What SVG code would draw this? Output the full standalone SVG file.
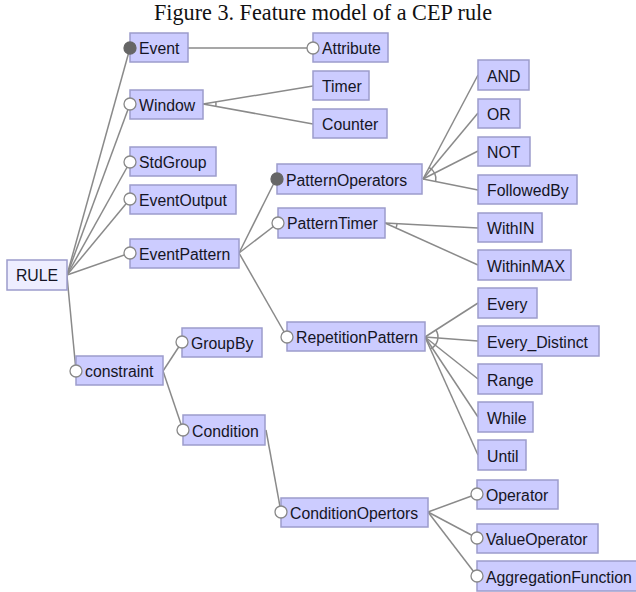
<svg xmlns="http://www.w3.org/2000/svg" width="636" height="592" viewBox="0 0 636 592">
<style>
.n rect{fill:#ccccff;stroke:#9c9ccc;stroke-width:1.5}
.n text{font-family:"Liberation Sans",Arial,sans-serif;font-size:15.8px;fill:#151525}
.root rect{fill:#eeeeff}
.c{fill:#fff;stroke:#888;stroke-width:1.3}
.m{fill:#666;stroke:#666;stroke-width:1.3}
#edges line,#edges path{stroke:#8a8a8a;stroke-width:1.5;fill:none}
</style>
<rect width="636" height="592" fill="#fff"/>
<text x="323" y="20" text-anchor="middle" font-family="Liberation Serif,'Times New Roman',serif" font-size="22.2" fill="#111">Figure 3. Feature model of a CEP rule</text>
<g id="edges">
<line x1="67" y1="275" x2="130" y2="48"/>
<line x1="67" y1="275" x2="130" y2="104"/>
<line x1="67" y1="275" x2="130" y2="162"/>
<line x1="67" y1="275" x2="130" y2="199"/>
<line x1="67" y1="275" x2="130" y2="253"/>
<line x1="67" y1="276" x2="76" y2="371"/>
<line x1="188" y1="48" x2="313" y2="48"/>
<line x1="203" y1="104" x2="313" y2="86"/>
<line x1="203" y1="104" x2="313" y2="124"/>
<path d="M215.8,101.9 A13,13 0 0 1 215.8,106.3"/>
<line x1="239" y1="253" x2="276" y2="179"/>
<line x1="239" y1="253" x2="278" y2="223"/>
<line x1="239" y1="253" x2="287" y2="337"/>
<line x1="423" y1="179" x2="478" y2="75"/>
<line x1="423" y1="179" x2="478" y2="113"/>
<line x1="423" y1="179" x2="478" y2="151"/>
<line x1="423" y1="179" x2="478" y2="190"/>
<path d="M429.1,167.5 A13,13 0 0 1 435.7,181.5"/>
<line x1="385" y1="223" x2="478" y2="228"/>
<line x1="385" y1="223" x2="478" y2="265"/>
<path d="M397,223.6 A12,12 0 0 1 395.9,227.9"/>
<line x1="425" y1="337" x2="478" y2="303"/>
<line x1="425" y1="337" x2="478" y2="341"/>
<line x1="425" y1="337" x2="478" y2="379"/>
<line x1="425" y1="337" x2="478" y2="417"/>
<line x1="425" y1="337" x2="478" y2="455"/>
<path d="M435.9,330 A13,13 0 0 1 430.3,348.9"/>
<line x1="163" y1="371" x2="182" y2="342"/>
<line x1="163" y1="371" x2="183" y2="430"/>
<line x1="266" y1="430" x2="281" y2="512"/>
<line x1="428" y1="512" x2="477" y2="494"/>
<line x1="428" y1="512" x2="477" y2="538"/>
<line x1="428" y1="512" x2="477" y2="576"/>
</g>
<g id="RULE" class="n root"><rect x="7" y="260" width="60" height="30"/><text x="37" y="281" text-anchor="middle">RULE</text></g>
<g id="Event" class="n"><rect x="130" y="33" width="58" height="29"/><text x="139" y="54">Event</text><circle class="m" cx="130" cy="48" r="6"/></g>
<g id="Window" class="n"><rect x="130" y="90" width="73" height="29"/><text x="139" y="111">Window</text><circle class="c" cx="130" cy="104" r="6"/></g>
<g id="StdGroup" class="n"><rect x="130" y="147" width="86" height="29"/><text x="139" y="168">StdGroup</text><circle class="c" cx="130" cy="162" r="6"/></g>
<g id="EventOutput" class="n"><rect x="130" y="185" width="106" height="29"/><text x="139" y="206">EventOutput</text><circle class="c" cx="130" cy="199" r="6"/></g>
<g id="EventPattern" class="n"><rect x="130" y="239" width="109" height="29"/><text x="139" y="260">EventPattern</text><circle class="c" cx="130" cy="253" r="6"/></g>
<g id="constraint" class="n"><rect x="76" y="356" width="87" height="29"/><text x="85" y="377">constraint</text><circle class="c" cx="76" cy="371" r="6"/></g>
<g id="Attribute" class="n"><rect x="313" y="33" width="75" height="29"/><text x="322" y="54">Attribute</text><circle class="c" cx="313" cy="48" r="6"/></g>
<g id="Timer" class="n"><rect x="313" y="71" width="56" height="29"/><text x="322" y="92">Timer</text></g>
<g id="Counter" class="n"><rect x="313" y="109" width="74" height="29"/><text x="322" y="130">Counter</text></g>
<g id="PatternOperators" class="n"><rect x="277" y="164" width="145" height="30"/><text x="286" y="186" fill="#3a3a48">PatternOperators</text><circle class="m" cx="277" cy="179" r="6"/></g>
<g id="PatternTimer" class="n"><rect x="278" y="208" width="107" height="30"/><text x="287" y="229">PatternTimer</text><circle class="c" cx="278" cy="223" r="6"/></g>
<g id="RepetitionPattern" class="n"><rect x="287" y="322" width="138" height="29"/><text x="296" y="343">RepetitionPattern</text><circle class="c" cx="287" cy="337" r="6"/></g>
<g id="AND" class="n"><rect x="478" y="60" width="51" height="30"/><text x="487" y="82">AND</text></g>
<g id="OR" class="n"><rect x="478" y="99" width="42" height="29"/><text x="487" y="120">OR</text></g>
<g id="NOT" class="n"><rect x="478" y="137" width="52" height="29"/><text x="487" y="158">NOT</text></g>
<g id="FollowedBy" class="n"><rect x="478" y="175" width="99" height="29"/><text x="487" y="196">FollowedBy</text></g>
<g id="WithIN" class="n"><rect x="478" y="213" width="64" height="29"/><text x="487" y="234">WithIN</text></g>
<g id="WithinMAX" class="n"><rect x="478" y="250" width="93" height="30"/><text x="487" y="272">WithinMAX</text></g>
<g id="Every" class="n"><rect x="478" y="288" width="59" height="30"/><text x="487" y="310">Every</text></g>
<g id="Every_Distinct" class="n"><rect x="478" y="326" width="121" height="30"/><text x="487" y="348">Every_Distinct</text></g>
<g id="Range" class="n"><rect x="478" y="364" width="64" height="30"/><text x="487" y="386">Range</text></g>
<g id="While" class="n"><rect x="478" y="402" width="55" height="30"/><text x="487" y="424">While</text></g>
<g id="Until" class="n"><rect x="478" y="440" width="48" height="30"/><text x="487" y="462">Until</text></g>
<g id="GroupBy" class="n"><rect x="182" y="328" width="80" height="29"/><text x="191" y="349">GroupBy</text><circle class="c" cx="182" cy="342" r="6"/></g>
<g id="Condition" class="n"><rect x="183" y="415" width="82" height="30"/><text x="192" y="437">Condition</text><circle class="c" cx="183" cy="430" r="6"/></g>
<g id="ConditionOpertors" class="n"><rect x="281" y="498" width="147" height="29"/><text x="290" y="519">ConditionOpertors</text><circle class="c" cx="281" cy="512" r="6"/></g>
<g id="Operator" class="n"><rect x="477" y="480" width="81" height="29"/><text x="486" y="501">Operator</text><circle class="c" cx="477" cy="494" r="6"/></g>
<g id="ValueOperator" class="n"><rect x="477" y="524" width="121" height="29"/><text x="486" y="545">ValueOperator</text><circle class="c" cx="477" cy="538" r="6"/></g>
<g id="AggregationFunction" class="n"><rect x="477" y="561" width="160" height="30"/><text x="486" y="583">AggregationFunction</text><circle class="c" cx="477" cy="576" r="6"/></g>
</svg>
